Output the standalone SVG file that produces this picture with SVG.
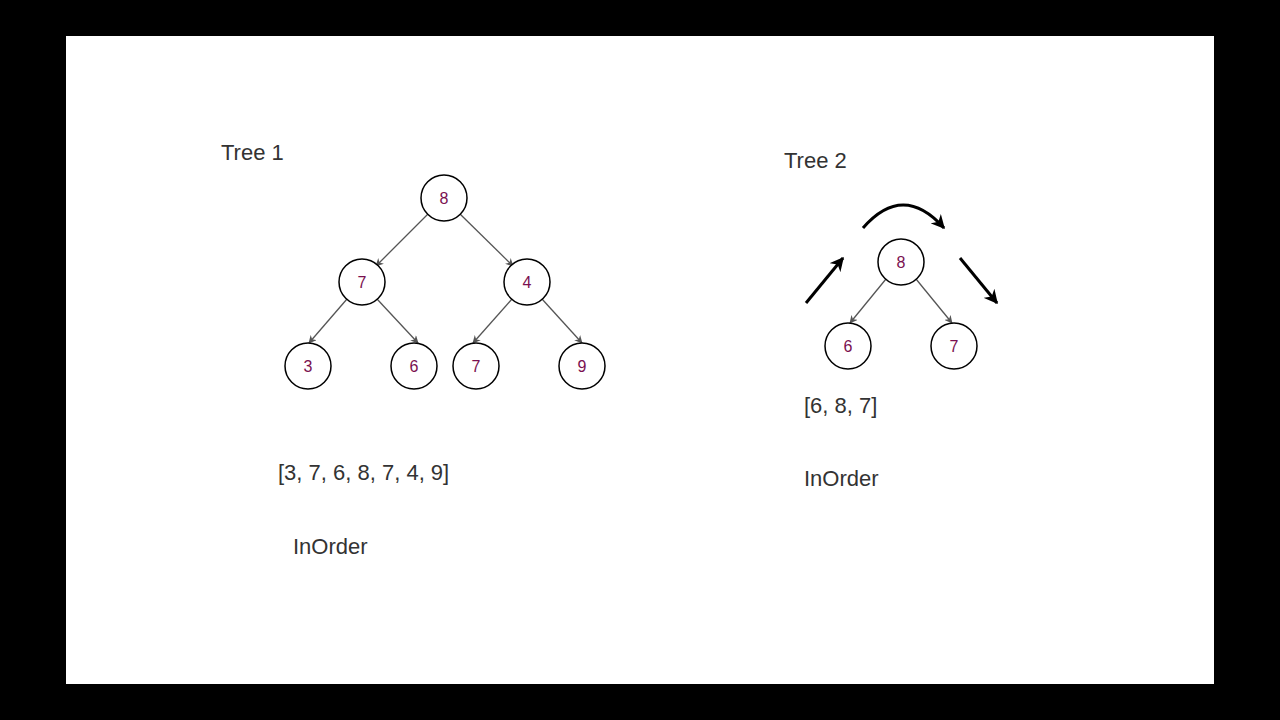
<svg xmlns="http://www.w3.org/2000/svg" width="1280" height="720" viewBox="0 0 1280 720">
<style>
.n circle{fill:#fff;stroke:#000;stroke-width:1.5}
.n text{font-family:"Liberation Sans",Arial,sans-serif;font-size:16px;fill:#7a1050;text-anchor:middle}
.e{stroke:#555;stroke-width:1.3;fill:none;marker-end:url(#ag)}
.b{stroke:#000;stroke-width:3;fill:none;marker-end:url(#ab)}
.t{font-family:"Liberation Sans",Arial,sans-serif;font-size:22px;fill:#333}
</style>
<defs>
<marker id="ag" viewBox="0 0 10 10" refX="9" refY="5" markerWidth="8" markerHeight="8" markerUnits="userSpaceOnUse" orient="auto"><path d="M0,0L10,5L0,10L3,5z" fill="#555"/></marker>
<marker id="ab" viewBox="0 0 10 10" refX="9" refY="5" markerWidth="14" markerHeight="14" markerUnits="userSpaceOnUse" orient="auto"><path d="M0,0L10,5L0,10L3,5z" fill="#000"/></marker>
</defs>
<rect width="1280" height="720" fill="#000"/>
<rect x="66" y="36" width="1148" height="648" fill="#fff"/>
<g id="connectors">
<line class="e" x1="428" y1="214" x2="376" y2="266"/>
<line class="e" x1="460" y1="214" x2="513" y2="266"/>
<line class="e" x1="347" y1="299" x2="309" y2="343"/>
<line class="e" x1="377" y1="299" x2="418" y2="343"/>
<line class="e" x1="512" y1="299" x2="473" y2="343"/>
<line class="e" x1="542" y1="299" x2="582" y2="343"/>
<line class="e" x1="886" y1="279" x2="850" y2="323"/>
<line class="e" x1="916" y1="279" x2="952" y2="323"/>
<line class="b" x1="806" y1="303" x2="843" y2="258"/>
<path class="b" d="M863,228 Q903,182 944,228"/>
<line class="b" x1="960" y1="258" x2="997" y2="303"/>
</g>
<g id="n8" class="n"><circle cx="444" cy="198" r="23"/><text x="444" y="204">8</text></g>
<g id="n7a" class="n"><circle cx="362" cy="282" r="23"/><text x="362" y="288">7</text></g>
<g id="n4" class="n"><circle cx="527" cy="282" r="23"/><text x="527" y="288">4</text></g>
<g id="n3" class="n"><circle cx="308" cy="366" r="23"/><text x="308" y="372">3</text></g>
<g id="n6a" class="n"><circle cx="414" cy="366" r="23"/><text x="414" y="372">6</text></g>
<g id="n7b" class="n"><circle cx="476" cy="366" r="23"/><text x="476" y="372">7</text></g>
<g id="n9" class="n"><circle cx="582" cy="366" r="23"/><text x="582" y="372">9</text></g>
<g id="t2n8" class="n"><circle cx="901" cy="262" r="23"/><text x="901" y="268">8</text></g>
<g id="t2n6" class="n"><circle cx="848" cy="346" r="23"/><text x="848" y="352">6</text></g>
<g id="t2n7" class="n"><circle cx="954" cy="346" r="23"/><text x="954" y="352">7</text></g>
<text class="t" x="221" y="160">Tree 1</text>
<text class="t" x="784" y="168">Tree 2</text>
<text class="t" x="278" y="480">[3, 7, 6, 8, 7, 4, 9]</text>
<text class="t" x="293" y="554">InOrder</text>
<text class="t" x="804" y="413">[6, 8, 7]</text>
<text class="t" x="804" y="486">InOrder</text>
</svg>
